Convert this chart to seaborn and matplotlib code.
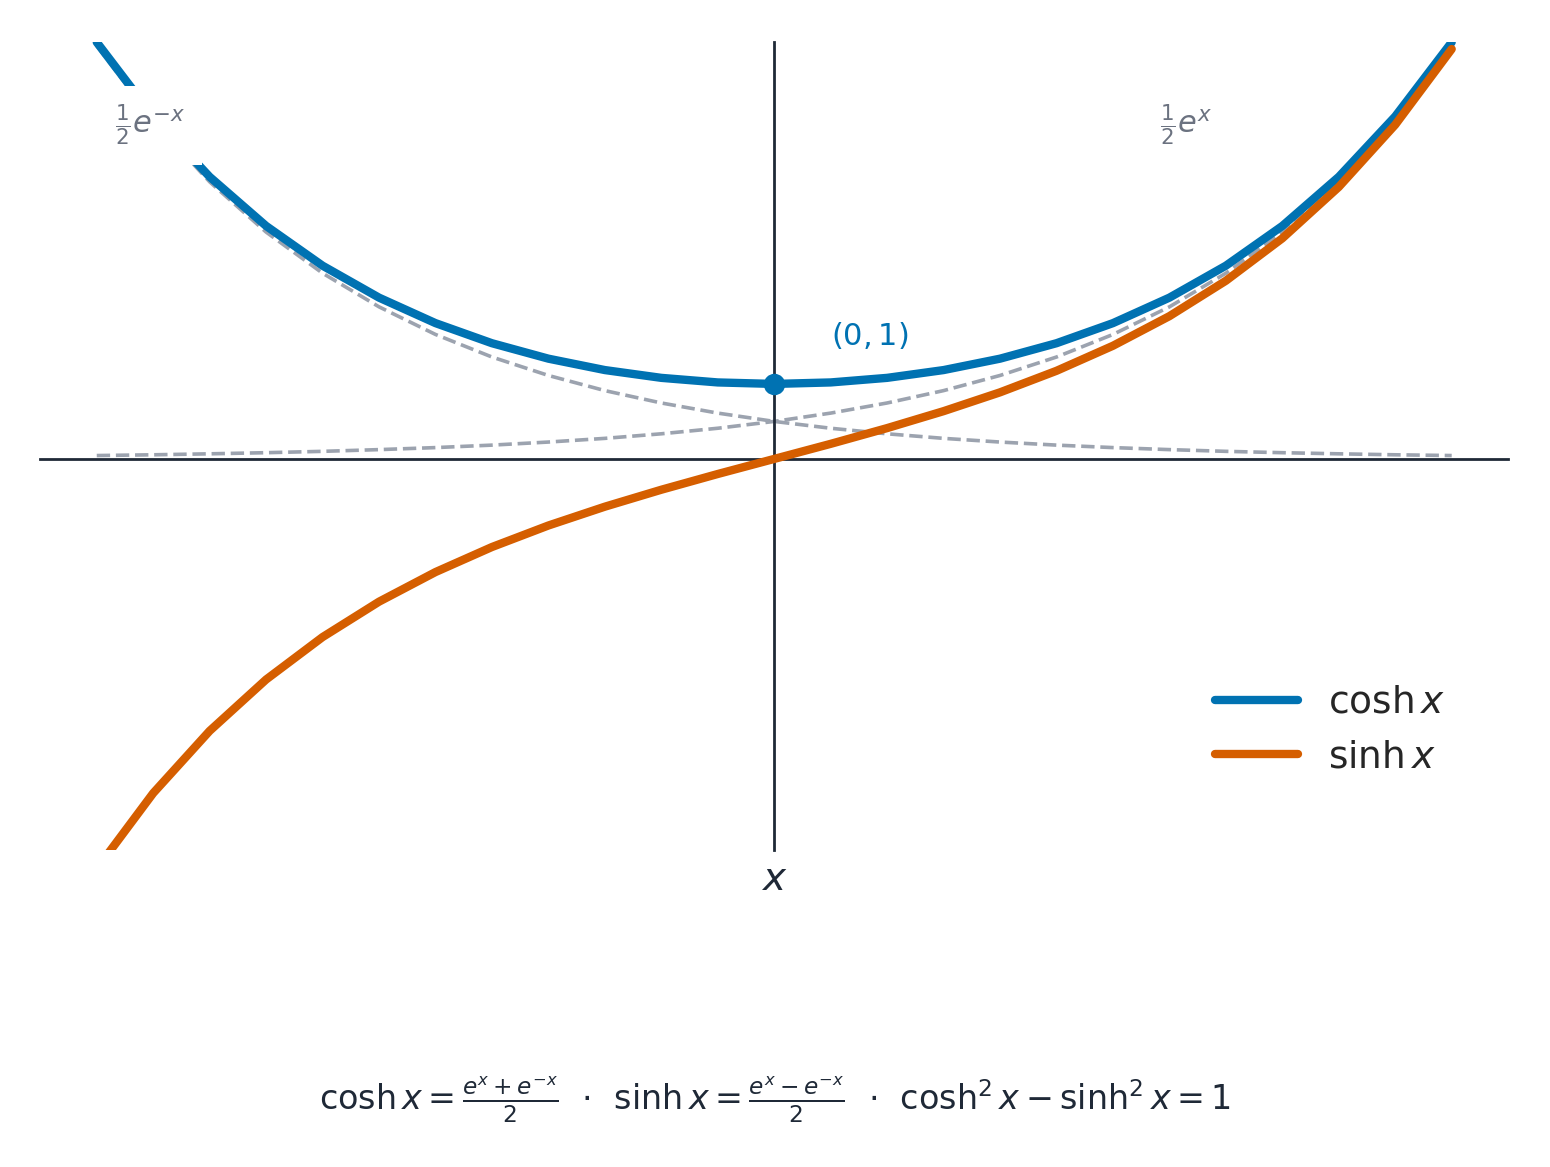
import numpy as np
import pandas as pd
import matplotlib
matplotlib.use("Agg")
import matplotlib.pyplot as plt
import seaborn as sns

# valores (paso 0.2)
x = [-2.4, -2.2, -2.0, -1.8, -1.6, -1.4, -1.2, -1.0, -0.8, -0.6, -0.4, -0.2, 0.0,
     0.2, 0.4, 0.6, 0.8, 1.0, 1.2, 1.4, 1.6, 1.8, 2.0, 2.2, 2.4]
cosh_v = [5.557, 4.568, 3.762, 3.107, 2.577, 2.151, 1.811, 1.543, 1.337, 1.185, 1.081, 1.020, 1.0,
          1.020, 1.081, 1.185, 1.337, 1.543, 1.811, 2.151, 2.577, 3.107, 3.762, 4.568, 5.557]
sinh_v = [-5.466, -4.457, -3.627, -2.942, -2.376, -1.904, -1.509, -1.175, -0.888, -0.637, -0.411, -0.201, 0.0,
          0.201, 0.411, 0.637, 0.888, 1.175, 1.509, 1.904, 2.376, 2.942, 3.627, 4.457, 5.466]
half_exp = [0.045, 0.055, 0.068, 0.083, 0.101, 0.124, 0.151, 0.184, 0.225, 0.274, 0.335, 0.409, 0.5,
            0.611, 0.746, 0.911, 1.113, 1.359, 1.660, 2.028, 2.477, 3.025, 3.695, 4.513, 5.512]
half_exp_neg = half_exp[::-1]

BLUE, ORANGE, GRAY, LGRAY, DARK = "#0072B2", "#D55E00", "#9CA3AF", "#6B7280", "#1F2937"

sns.set_theme(style="white")
plt.rcParams["font.family"] = ["DejaVu Sans"]
fig = plt.figure(figsize=(7.75, 5.835), dpi=200)
ax = fig.add_axes([0.026, 0.272, 0.947, 0.692])

df = pd.DataFrame({"x": x, "cosh": cosh_v, "sinh": sinh_v, "ep": half_exp, "en": half_exp_neg})
sns.lineplot(data=df, x="x", y="ep", ax=ax, color=GRAY, lw=1.3, ls="--", zorder=1)
sns.lineplot(data=df, x="x", y="en", ax=ax, color=GRAY, lw=1.3, ls="--", zorder=1)
sns.lineplot(data=df, x="x", y="cosh", ax=ax, color=BLUE, lw=3, label=r"$\cosh x$", zorder=3)
sns.lineplot(data=df, x="x", y="sinh", ax=ax, color=ORANGE, lw=3, label=r"$\sinh x$", zorder=3)
ax.scatter([0], [1], color=BLUE, s=45, zorder=4)
ax.text(0.2, 1.65, r"$(0, 1)$", color=BLUE, fontsize=11, ha="left", va="center")
ax.text(-2.21, 4.45, r"$\frac{1}{2}e^{-x}$", color=LGRAY, fontsize=11, ha="center", va="center",
        bbox=dict(fc="white", ec="none", pad=6), zorder=5)
ax.text(1.46, 4.45, r"$\frac{1}{2}e^{x}$", color=LGRAY, fontsize=11, ha="center", va="center",
        bbox=dict(fc="white", ec="none", pad=6), zorder=5)

ax.set_xlim(-2.6, 2.6)
ax.set_ylim(-5.21, 5.56)
for s in ["top", "right"]:
    ax.spines[s].set_visible(False)
ax.spines["left"].set_position(("data", 0))
ax.spines["bottom"].set_position(("data", 0))
for s in ["left", "bottom"]:
    ax.spines[s].set_color(DARK)
    ax.spines[s].set_linewidth(1)
ax.set_xticks([]); ax.set_yticks([])
ax.set_xlabel(""); ax.set_ylabel("")
ax.text(0, -5.6, r"$x$", color=DARK, fontsize=14, ha="center", va="center")
ax.legend(loc="lower right", bbox_to_anchor=(0.98, 0.05), frameon=False, fontsize=13.5,
          handlelength=2.2)
fig.text(0.5, 0.058, r"$\cosh x = \frac{e^x + e^{-x}}{2}$  $\cdot$  $\sinh x = \frac{e^x - e^{-x}}{2}$  $\cdot$  $\cosh^2 x - \sinh^2 x = 1$",
         ha="center", va="center", fontsize=12, color=DARK)
fig.savefig("out.png", dpi=200)
